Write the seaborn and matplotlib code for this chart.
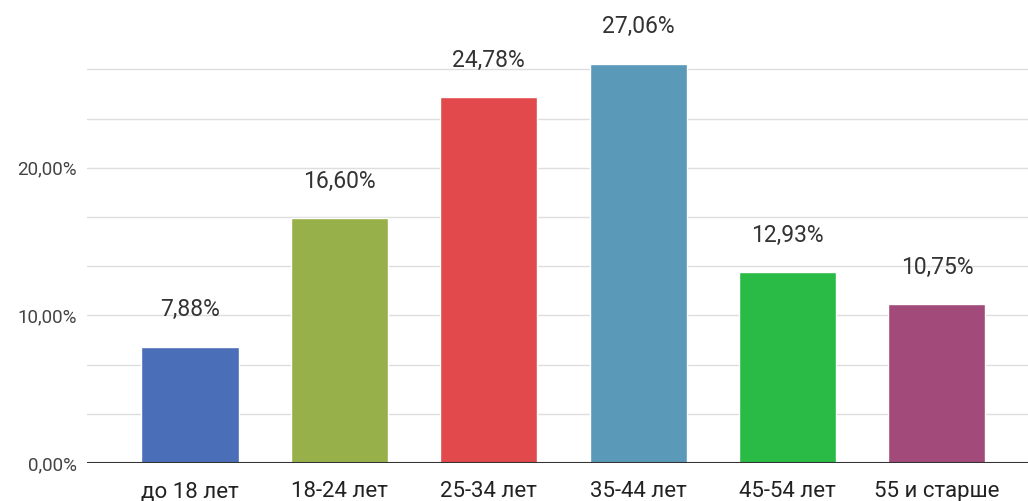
import matplotlib
matplotlib.use("Agg")
import matplotlib.pyplot as plt
import seaborn as sns
import numpy as np
import pandas as pd

categories = ["до 18 лет", "18-24 лет", "25-34 лет", "35-44 лет", "45-54 лет", "55 и старше"]
values = [7.88, 16.60, 24.78, 27.06, 12.93, 10.75]
colors = ["#4a6eb8", "#97b04a", "#e2494c", "#5a99b7", "#2abb47", "#a24a79"]
ytick_vals = [0, 10, 20]
ytick_labels = ["0,00%", "10,00%", "20,00%"]

sns.set_theme(style="white")
plt.rcParams["font.family"] = ["Roboto", "DejaVu Sans"]

df = pd.DataFrame({"cat": categories, "val": values})

fig = plt.figure(figsize=(10.28, 5.01), dpi=100)
ax = fig.add_axes([0.0846, 0.0758, 0.9154, 0.884])

sns.barplot(data=df, x="cat", y="val", hue="cat", palette=colors,
            width=0.65, legend=False, ax=ax, saturation=1)

ax.set_ylim(0, 30)
ax.set_xlim(-0.69, 5.61)

# grid lines every 10/3 %
for g in np.arange(1, 9) * (10 / 3):
    ax.axhline(g, color="#dedede", lw=1.0, zorder=0)
ax.axhline(0, color="#333333", lw=1.5, zorder=3)

for s in ax.spines.values():
    s.set_visible(False)

ax.set_yticks(ytick_vals)
ax.set_yticklabels(ytick_labels, fontsize=13.5, color="#444444")
ax.tick_params(axis="y", length=0, pad=7)
ax.tick_params(axis="x", length=0, pad=13, labelsize=16, labelcolor="#222222")
ax.set_xlabel("")
ax.set_ylabel("")

for i, v in enumerate(values):
    ax.annotate(f"{v:.2f}%".replace(".", ","), (i, v), xytext=(0, 26.5),
                textcoords="offset points", ha="center", va="center",
                fontsize=16.5, color="#333333")

fig.savefig("out.png", dpi=100)
